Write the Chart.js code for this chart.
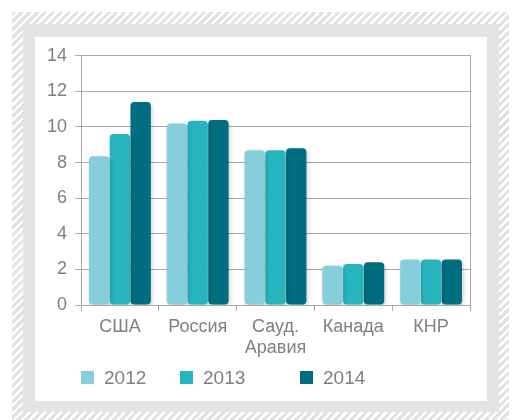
<!DOCTYPE html>
<html><head><meta charset="utf-8">
<script src="https://cdn.jsdelivr.net/npm/chart.js@4.4.1/dist/chart.umd.min.js"></script>
<style>
html,body{margin:0;padding:0;background:#fff;}
#root{position:relative;width:512px;height:420px;overflow:hidden;}
#hatch{position:absolute;left:12px;top:12px;width:497px;height:420px;
 background:repeating-linear-gradient(135deg,#e2e2e2 0 3px,#fff 3px 5.6px);}
#band{position:absolute;left:23px;top:24px;width:476px;height:388px;background:#e3e3e3;}
#panel{position:absolute;left:35px;top:37px;width:452px;height:364px;background:#fff;}
#cv{position:absolute;left:35px;top:37px;}
#legend{position:absolute;left:0;top:0;width:512px;height:420px;pointer-events:none;
 font-family:"Liberation Sans",Arial,sans-serif;font-size:19px;color:#808080;}
.li{position:absolute;top:367px;height:22px;line-height:22px;white-space:nowrap;}
.li span.box{position:absolute;left:0;top:4px;width:13px;height:13px;}
.li span.t{position:absolute;left:23px;top:0;}
</style></head>
<body><div id="root">
<div id="hatch"></div><div id="band"></div><div id="panel"></div>
<canvas id="cv" width="452" height="364"></canvas>
<div id="legend"></div>
</div>
<script>
const categories = ["США", "Россия", ["Сауд.", "Аравия"], "Канада", "КНР"];
const years = ["2012", "2013", "2014"];
const values2012 = [8.35, 10.2, 8.7, 2.2, 2.55];
const values2013 = [9.6, 10.35, 8.7, 2.3, 2.55];
const values2014 = [11.4, 10.4, 8.8, 2.4, 2.55];
const yTicks = [0, 2, 4, 6, 8, 10, 12, 14];
const colors = ["#86cedb", "#26b5bf", "#006e80"];
const legendX = [81, 180, 300];

const series = [values2012, values2013, values2014];
const FONT = '"Liberation Sans", Arial, sans-serif';
const GRID = '#a9a9a9';

const shadowPlugin = {
  id: 'barShadow',
  beforeDatasetsDraw(chart) {
    const c = chart.ctx; c.save();
    c.shadowColor = 'rgba(0,0,0,0.22)'; c.shadowBlur = 4; c.shadowOffsetX = 1; c.shadowOffsetY = 2;
  },
  afterDatasetsDraw(chart) { chart.ctx.restore(); }
};

const chart = new Chart(document.getElementById('cv'), {
  type: 'bar',
  data: {
    labels: categories,
    datasets: years.map((y, i) => ({
      label: y, data: series[i], backgroundColor: colors[i],
      borderRadius: 4, borderSkipped: false,
      categoryPercentage: 0.8, barPercentage: 0.98
    }))
  },
  options: {
    responsive: false, animation: false, devicePixelRatio: 1,
    layout: { padding: { top: 17, right: 17, left: 0, bottom: 0 } },
    plugins: { legend: { display: false }, tooltip: { enabled: false } },
    scales: {
      x: {
        grid: { drawOnChartArea: false, drawTicks: true, tickLength: 6, color: GRID, offset: true },
        border: { color: GRID },
        ticks: { color: '#808080', font: { family: FONT, size: 18 }, padding: 5, maxRotation: 0, autoSkip: false },
        afterFit(s) { s.height = 96; }
      },
      y: {
        min: 0, max: 14,
        afterBuildTicks(s) { s.ticks = yTicks.map(v => ({ value: v })); },
        grid: { color: GRID, tickLength: 6 },
        border: { color: GRID },
        ticks: { color: '#808080', font: { family: FONT, size: 18 }, padding: 8 },
        afterFit(s) { s.width = 46; }
      },
      y2: {
        position: 'right', min: 0, max: 14,
        grid: { drawOnChartArea: false, drawTicks: false },
        border: { color: GRID },
        ticks: { display: false },
        afterFit(s) { s.width = 0; }
      }
    }
  },
  plugins: [shadowPlugin]
});

const lg = document.getElementById('legend');
chart.data.datasets.forEach((ds, i) => {
  const d = document.createElement('div');
  d.className = 'li'; d.style.left = legendX[i] + 'px';
  d.innerHTML = '<span class="box" style="background:' + ds.backgroundColor + '"></span><span class="t">' + ds.label + '</span>';
  lg.appendChild(d);
});
</script>
</body></html>
